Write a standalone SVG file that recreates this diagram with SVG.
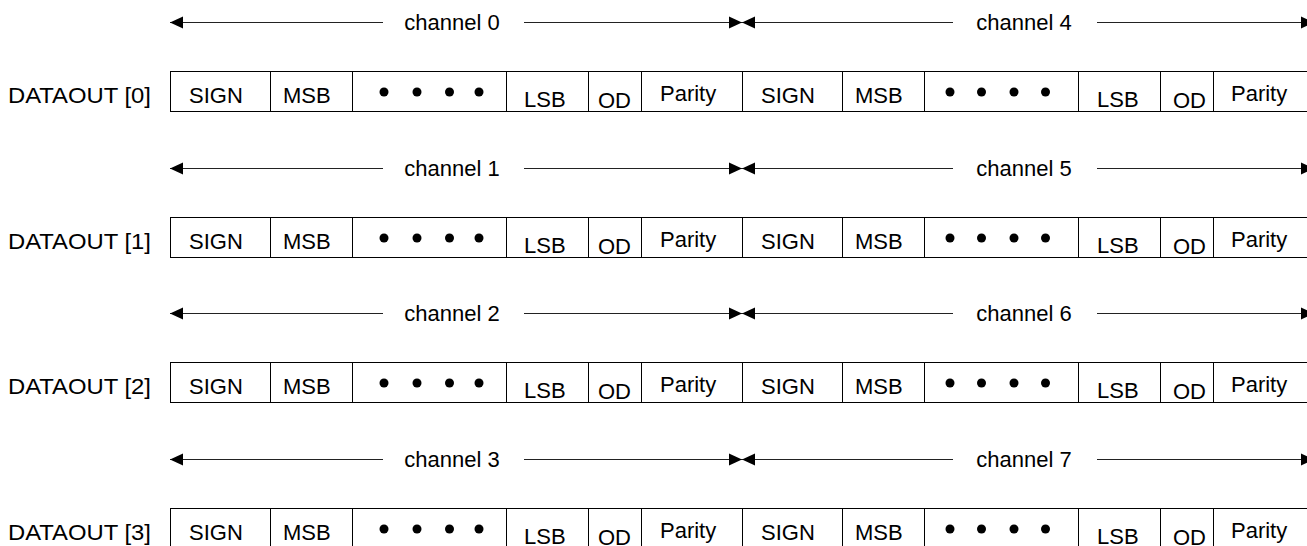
<svg xmlns="http://www.w3.org/2000/svg" width="1307" height="546" viewBox="0 0 1307 546">
<style>
text{font-family:"Liberation Sans",Arial,sans-serif;fill:#000}
.lbl{font-size:22px}
.cell{font-size:22px}
.ch{font-size:22px;text-anchor:middle}
.box{fill:#fff;stroke:#000;stroke-width:1}
.div{stroke:#000;stroke-width:1}
.conn{stroke:#222;stroke-width:1;fill:none;marker-end:url(#ah)}
.dot{fill:#000}
</style>
<defs>
<marker id="ah" markerUnits="userSpaceOnUse" markerWidth="13" markerHeight="13" refX="13" refY="6.5" orient="auto"><path d="M0,0.5 L13,6.5 L0,12.5 z" fill="#000"/></marker>
</defs>
<rect width="1307" height="546" fill="#fff"/>

<!-- Connectors -->
<g id="connectors">
 <g transform="translate(0,0)">
  <line class="conn" x1="383" y1="22.5" x2="170" y2="22.5"/>
  <line class="conn" x1="524" y1="22.5" x2="742" y2="22.5"/>
  <line class="conn" x1="953" y1="22.5" x2="742" y2="22.5"/>
  <line class="conn" x1="1097" y1="22.5" x2="1314" y2="22.5"/>
  <text class="ch" x="452" y="30">channel 0</text>
  <text class="ch" x="1024" y="30">channel 4</text>
 </g>
 <g transform="translate(0,146)">
  <line class="conn" x1="383" y1="22.5" x2="170" y2="22.5"/>
  <line class="conn" x1="524" y1="22.5" x2="742" y2="22.5"/>
  <line class="conn" x1="953" y1="22.5" x2="742" y2="22.5"/>
  <line class="conn" x1="1097" y1="22.5" x2="1314" y2="22.5"/>
  <text class="ch" x="452" y="30">channel 1</text>
  <text class="ch" x="1024" y="30">channel 5</text>
 </g>
 <g transform="translate(0,291)">
  <line class="conn" x1="383" y1="22.5" x2="170" y2="22.5"/>
  <line class="conn" x1="524" y1="22.5" x2="742" y2="22.5"/>
  <line class="conn" x1="953" y1="22.5" x2="742" y2="22.5"/>
  <line class="conn" x1="1097" y1="22.5" x2="1314" y2="22.5"/>
  <text class="ch" x="452" y="30">channel 2</text>
  <text class="ch" x="1024" y="30">channel 6</text>
 </g>
 <g transform="translate(0,437)">
  <line class="conn" x1="383" y1="22.5" x2="170" y2="22.5"/>
  <line class="conn" x1="524" y1="22.5" x2="742" y2="22.5"/>
  <line class="conn" x1="953" y1="22.5" x2="742" y2="22.5"/>
  <line class="conn" x1="1097" y1="22.5" x2="1314" y2="22.5"/>
  <text class="ch" x="452" y="30">channel 3</text>
  <text class="ch" x="1024" y="30">channel 7</text>
 </g>
</g>

<!-- Register rows -->
<g id="dataout0" transform="translate(0,0)">
 <text class="lbl" x="8" y="103" textLength="143" lengthAdjust="spacingAndGlyphs">DATAOUT [0]</text>
 <rect class="box" x="170.5" y="71.5" width="1144" height="40"/>
 <path class="div" d="M270.5,71.5V111.5M352.5,71.5V111.5M506.5,71.5V111.5M588.5,71.5V111.5M641.5,71.5V111.5M742.5,71.5V111.5M842.5,71.5V111.5M924.5,71.5V111.5M1078.5,71.5V111.5M1160.5,71.5V111.5M1213.5,71.5V111.5"/>
 <text class="cell" x="189" y="103">SIGN</text><text class="cell" x="283" y="103">MSB</text>
 <circle class="dot" cx="384" cy="92" r="4.5"/><circle class="dot" cx="417" cy="92" r="4.5"/><circle class="dot" cx="449.5" cy="92" r="4.5"/><circle class="dot" cx="479" cy="92" r="4.5"/>
 <text class="cell" x="524" y="106.5">LSB</text><text class="cell" x="598" y="108">OD</text><text class="cell" x="660" y="100.5">Parity</text>
 <text class="cell" x="761" y="103">SIGN</text><text class="cell" x="855" y="103">MSB</text>
 <circle class="dot" cx="950" cy="92" r="4.5"/><circle class="dot" cx="981.5" cy="92" r="4.5"/><circle class="dot" cx="1014" cy="92" r="4.5"/><circle class="dot" cx="1045.5" cy="92" r="4.5"/>
 <text class="cell" x="1097" y="106.5">LSB</text><text class="cell" x="1173" y="108">OD</text><text class="cell" x="1231" y="100.5">Parity</text>
</g>
<g id="dataout1" transform="translate(0,146)">
 <text class="lbl" x="8" y="103" textLength="143" lengthAdjust="spacingAndGlyphs">DATAOUT [1]</text>
 <rect class="box" x="170.5" y="71.5" width="1144" height="40"/>
 <path class="div" d="M270.5,71.5V111.5M352.5,71.5V111.5M506.5,71.5V111.5M588.5,71.5V111.5M641.5,71.5V111.5M742.5,71.5V111.5M842.5,71.5V111.5M924.5,71.5V111.5M1078.5,71.5V111.5M1160.5,71.5V111.5M1213.5,71.5V111.5"/>
 <text class="cell" x="189" y="103">SIGN</text><text class="cell" x="283" y="103">MSB</text>
 <circle class="dot" cx="384" cy="92" r="4.5"/><circle class="dot" cx="417" cy="92" r="4.5"/><circle class="dot" cx="449.5" cy="92" r="4.5"/><circle class="dot" cx="479" cy="92" r="4.5"/>
 <text class="cell" x="524" y="106.5">LSB</text><text class="cell" x="598" y="108">OD</text><text class="cell" x="660" y="100.5">Parity</text>
 <text class="cell" x="761" y="103">SIGN</text><text class="cell" x="855" y="103">MSB</text>
 <circle class="dot" cx="950" cy="92" r="4.5"/><circle class="dot" cx="981.5" cy="92" r="4.5"/><circle class="dot" cx="1014" cy="92" r="4.5"/><circle class="dot" cx="1045.5" cy="92" r="4.5"/>
 <text class="cell" x="1097" y="106.5">LSB</text><text class="cell" x="1173" y="108">OD</text><text class="cell" x="1231" y="100.5">Parity</text>
</g>
<g id="dataout2" transform="translate(0,291)">
 <text class="lbl" x="8" y="103" textLength="143" lengthAdjust="spacingAndGlyphs">DATAOUT [2]</text>
 <rect class="box" x="170.5" y="71.5" width="1144" height="40"/>
 <path class="div" d="M270.5,71.5V111.5M352.5,71.5V111.5M506.5,71.5V111.5M588.5,71.5V111.5M641.5,71.5V111.5M742.5,71.5V111.5M842.5,71.5V111.5M924.5,71.5V111.5M1078.5,71.5V111.5M1160.5,71.5V111.5M1213.5,71.5V111.5"/>
 <text class="cell" x="189" y="103">SIGN</text><text class="cell" x="283" y="103">MSB</text>
 <circle class="dot" cx="384" cy="92" r="4.5"/><circle class="dot" cx="417" cy="92" r="4.5"/><circle class="dot" cx="449.5" cy="92" r="4.5"/><circle class="dot" cx="479" cy="92" r="4.5"/>
 <text class="cell" x="524" y="106.5">LSB</text><text class="cell" x="598" y="108">OD</text><text class="cell" x="660" y="100.5">Parity</text>
 <text class="cell" x="761" y="103">SIGN</text><text class="cell" x="855" y="103">MSB</text>
 <circle class="dot" cx="950" cy="92" r="4.5"/><circle class="dot" cx="981.5" cy="92" r="4.5"/><circle class="dot" cx="1014" cy="92" r="4.5"/><circle class="dot" cx="1045.5" cy="92" r="4.5"/>
 <text class="cell" x="1097" y="106.5">LSB</text><text class="cell" x="1173" y="108">OD</text><text class="cell" x="1231" y="100.5">Parity</text>
</g>
<g id="dataout3" transform="translate(0,437)">
 <text class="lbl" x="8" y="103" textLength="143" lengthAdjust="spacingAndGlyphs">DATAOUT [3]</text>
 <rect class="box" x="170.5" y="71.5" width="1144" height="40"/>
 <path class="div" d="M270.5,71.5V111.5M352.5,71.5V111.5M506.5,71.5V111.5M588.5,71.5V111.5M641.5,71.5V111.5M742.5,71.5V111.5M842.5,71.5V111.5M924.5,71.5V111.5M1078.5,71.5V111.5M1160.5,71.5V111.5M1213.5,71.5V111.5"/>
 <text class="cell" x="189" y="103">SIGN</text><text class="cell" x="283" y="103">MSB</text>
 <circle class="dot" cx="384" cy="92" r="4.5"/><circle class="dot" cx="417" cy="92" r="4.5"/><circle class="dot" cx="449.5" cy="92" r="4.5"/><circle class="dot" cx="479" cy="92" r="4.5"/>
 <text class="cell" x="524" y="106.5">LSB</text><text class="cell" x="598" y="107.5">OD</text><text class="cell" x="660" y="100.5">Parity</text>
 <text class="cell" x="761" y="103">SIGN</text><text class="cell" x="855" y="103">MSB</text>
 <circle class="dot" cx="950" cy="92" r="4.5"/><circle class="dot" cx="981.5" cy="92" r="4.5"/><circle class="dot" cx="1014" cy="92" r="4.5"/><circle class="dot" cx="1045.5" cy="92" r="4.5"/>
 <text class="cell" x="1097" y="106.5">LSB</text><text class="cell" x="1173" y="107.5">OD</text><text class="cell" x="1231" y="100.5">Parity</text>
</g>
</svg>
